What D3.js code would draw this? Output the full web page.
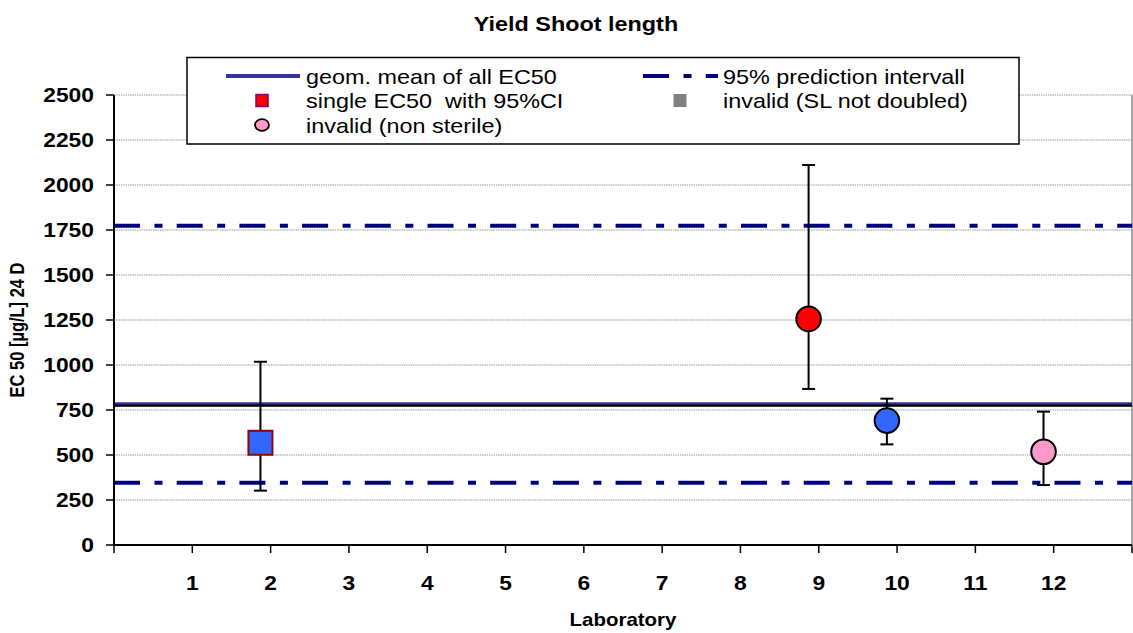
<!DOCTYPE html>
<html>
<head>
<meta charset="utf-8">
<script src="https://cdn.jsdelivr.net/npm/d3@7/dist/d3.min.js"></script>
<style>
  html, body { margin: 0; padding: 0; background: #fff; }
  svg { display: block; font-family: "Liberation Sans", Arial, Helvetica, sans-serif; }
  text { white-space: pre; }
</style>
</head>
<body>
<svg id="chart" width="1133" height="633"></svg>
<script>
// Laboratories that reported an EC50 and their 95% confidence limits (µg/L)
const labs   = [2, 9, 10, 12];
const ec50   = [568, 1256, 691, 518];
const ciLow  = [302, 867, 559, 333];
const ciHigh = [1018, 2111, 813, 741];
const status = ["single", "single", "single", "nonSterile"];

// Reference lines
const geomMean = 782;
const predLow = 346;
const predHigh = 1774;

// Axis ticks
const xTickLabels = [1, 2, 3, 4, 5, 6, 7, 8, 9, 10, 11, 12];
const yTickValues = [0, 250, 500, 750, 1000, 1250, 1500, 1750, 2000, 2250, 2500];

const legendItems = [
  { key: "mean",  label: "geom. mean of all EC50" },
  { key: "pred",  label: "95% prediction intervall" },
  { key: "single", label: "single EC50  with 95%CI" },
  { key: "slnd",  label: "invalid (SL not doubled)" },
  { key: "nonSterile", label: "invalid (non sterile)" }
];

// Marker appearance per laboratory
const markerStyle = {
  2:  { shape: "square", fill: "#3366FF", stroke: "#990000" },
  9:  { shape: "circle", fill: "#FF0000", stroke: "#000" },
  10: { shape: "circle", fill: "#3366FF", stroke: "#000" },
  12: { shape: "circle", fill: "#FF99CC", stroke: "#000" }
};

const SX = 1.17;                 // horizontal stretch of all lettering
const svg = d3.select("#chart");
const plot = { left: 114, right: 1132, top: 95, bottom: 545 };

const x = d3.scaleLinear().domain([0, 13]).range([plot.left, plot.right]);
const y = d3.scaleLinear().domain([0, 2500]).range([plot.bottom, plot.top]);
const markerShift = -0.13;       // markers sit slightly left of their tick

function stretchedText(parent, tx, ty, str, opts) {
  const g = parent.append("g").attr("transform", `translate(${tx},${ty}) scale(${opts.sx || SX},1)`);
  return g.append("text")
    .attr("x", 0).attr("y", 0)
    .attr("text-anchor", opts.anchor || "start")
    .attr("font-size", opts.size)
    .attr("font-weight", opts.bold ? "bold" : "normal")
    .attr("fill", "#000")
    .text(str);
}

// Title
stretchedText(svg, 576, 31, "Yield Shoot length", { size: 20, bold: true, anchor: "middle" });

// Gridlines
svg.append("g").selectAll("line")
  .data(yTickValues.filter(v => v > 0))
  .join("line")
  .attr("x1", plot.left).attr("x2", plot.right)
  .attr("y1", d => y(d)).attr("y2", d => y(d))
  .attr("stroke", "#9a9a9a").attr("stroke-width", 1.2)
  .attr("stroke-dasharray", "1.5,0.8");

// Right border of plot area
svg.append("line")
  .attr("x1", plot.right).attr("x2", plot.right)
  .attr("y1", plot.top).attr("y2", plot.bottom)
  .attr("stroke", "#8a8a8a").attr("stroke-width", 1.5);

// Prediction interval lines
const dashPattern = "26,14.5,8,14.2";
svg.append("g").selectAll("line")
  .data([predLow, predHigh])
  .join("line")
  .attr("x1", plot.left).attr("x2", plot.right)
  .attr("y1", d => y(d)).attr("y2", d => y(d))
  .attr("stroke", "#000080").attr("stroke-width", 4)
  .attr("stroke-dasharray", dashPattern);

// Geometric mean line
svg.append("line")
  .attr("x1", plot.left).attr("x2", plot.right)
  .attr("y1", y(geomMean)).attr("y2", y(geomMean))
  .attr("stroke", "#333399").attr("stroke-width", 4);
svg.append("line")
  .attr("x1", plot.left).attr("x2", plot.right)
  .attr("y1", y(geomMean) + 1.3).attr("y2", y(geomMean) + 1.3)
  .attr("stroke", "#000").attr("stroke-width", 2.3);

// Error bars
const points = labs.map((lab, i) => ({ lab, v: ec50[i], lo: ciLow[i], hi: ciHigh[i], status: status[i] }));
const eb = svg.append("g").attr("stroke", "#000").attr("stroke-width", 2);
points.forEach(p => {
  const cx = x(p.lab + markerShift);
  eb.append("line").attr("x1", cx).attr("x2", cx).attr("y1", y(p.lo)).attr("y2", y(p.hi));
  eb.append("line").attr("x1", cx - 6.5).attr("x2", cx + 6.5).attr("y1", y(p.lo)).attr("y2", y(p.lo));
  eb.append("line").attr("x1", cx - 6.5).attr("x2", cx + 6.5).attr("y1", y(p.hi)).attr("y2", y(p.hi));
});

// Markers
const mk = svg.append("g");
points.forEach(p => {
  const st = markerStyle[p.lab];
  const cx = x(p.lab + markerShift), cy = y(p.v);
  if (st.shape === "square") {
    mk.append("rect").attr("x", cx - 12).attr("y", cy - 12).attr("width", 24).attr("height", 24)
      .attr("fill", st.fill).attr("stroke", st.stroke).attr("stroke-width", 2);
  } else {
    mk.append("circle").attr("cx", cx).attr("cy", cy).attr("r", 12.3)
      .attr("fill", st.fill).attr("stroke", st.stroke).attr("stroke-width", 2);
  }
});

// Y axis
const yAxis = svg.append("g").attr("transform", `translate(${plot.left},0)`);
yAxis.append("line").attr("x1", 0).attr("x2", 0).attr("y1", plot.top).attr("y2", plot.bottom)
  .attr("stroke", "#000").attr("stroke-width", 2);
yAxis.selectAll("line.tick").data(yTickValues).join("line").attr("class", "tick")
  .attr("x1", -8).attr("x2", 0).attr("y1", d => y(d)).attr("y2", d => y(d))
  .attr("stroke", "#000").attr("stroke-width", 1.5);
yTickValues.forEach(v => {
  stretchedText(svg, 94, y(v) + 7, String(v), { size: 19.5, bold: true, anchor: "end" });
});

// X axis
const xAxis = svg.append("g");
xAxis.append("line").attr("x1", plot.left - 1).attr("x2", plot.right).attr("y1", plot.bottom).attr("y2", plot.bottom)
  .attr("stroke", "#000").attr("stroke-width", 2);
xAxis.selectAll("line.tick").data(d3.range(0, 14)).join("line").attr("class", "tick")
  .attr("x1", d => x(d)).attr("x2", d => x(d)).attr("y1", plot.bottom).attr("y2", plot.bottom + 8)
  .attr("stroke", "#000").attr("stroke-width", 1.5);
xTickLabels.forEach(v => {
  stretchedText(svg, x(v), 590, String(v), { size: 19.5, bold: true, anchor: "middle" });
});

// Axis titles
stretchedText(svg, 623, 626, "Laboratory", { size: 17.5, bold: true, anchor: "middle" });
svg.append("g").attr("transform", "translate(24,330) scale(1.17,1) rotate(-90)")
  .append("text").attr("text-anchor", "middle").attr("font-size", 16.5).attr("font-weight", "bold")
  .text("EC 50 [µg/L] 24 D");

// Legend
const lg = svg.append("g");
lg.append("rect").attr("x", 187).attr("y", 57.5).attr("width", 832).attr("height", 86.5)
  .attr("fill", "#fff").attr("stroke", "#000").attr("stroke-width", 1.5);

const col1Text = 306, col2Text = 723, rowBase = [83.5, 108, 132.5];
const legendPos = {
  mean: [col1Text, 0], pred: [col2Text, 0], single: [col1Text, 1], slnd: [col2Text, 1], nonSterile: [col1Text, 2]
};
legendItems.forEach(item => {
  const [tx, r] = legendPos[item.key];
  stretchedText(lg, tx, rowBase[r], item.label, { size: 20, anchor: "start" });
  const cy = rowBase[r] - 7.5;
  if (item.key === "mean") {
    lg.append("line").attr("x1", 226).attr("x2", 300).attr("y1", cy).attr("y2", cy)
      .attr("stroke", "#333399").attr("stroke-width", 4);
  } else if (item.key === "pred") {
    lg.append("line").attr("x1", 643).attr("x2", 718).attr("y1", cy).attr("y2", cy)
      .attr("stroke", "#000080").attr("stroke-width", 4).attr("stroke-dasharray", dashPattern);
  } else if (item.key === "single") {
    lg.append("rect").attr("x", 256).attr("y", cy - 6).attr("width", 12).attr("height", 12)
      .attr("fill", "#FF0000").attr("stroke", "#800080").attr("stroke-width", 1.5);
  } else if (item.key === "slnd") {
    lg.append("rect").attr("x", 673.5).attr("y", cy - 6.5).attr("width", 13).attr("height", 13)
      .attr("fill", "#808080");
  } else if (item.key === "nonSterile") {
    lg.append("ellipse").attr("cx", 262).attr("cy", cy).attr("rx", 7).attr("ry", 5.8)
      .attr("fill", "#FF99CC").attr("stroke", "#000").attr("stroke-width", 1.8);
  }
});
</script>
</body>
</html>
